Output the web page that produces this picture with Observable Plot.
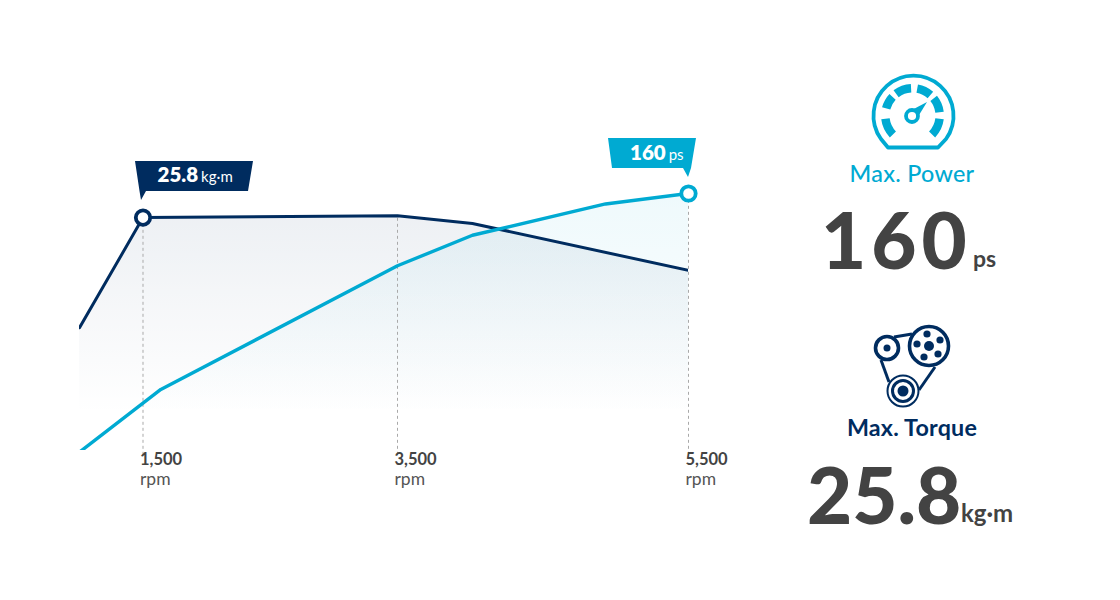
<!DOCTYPE html>
<html><head><meta charset="utf-8">
<script src="https://cdn.jsdelivr.net/npm/d3@7"></script>
<script src="https://cdn.jsdelivr.net/npm/@observablehq/plot@0.6"></script>
<style>
html,body{margin:0;background:#fff;width:1120px;height:600px;overflow:hidden}
#wrap{position:relative;width:1120px;height:600px;font-family:Lato,sans-serif}
#chart svg{position:absolute;left:0;top:0}
.t{position:absolute;white-space:nowrap;line-height:1}
</style></head><body>
<div id="wrap"><div id="chart"></div>
<svg id="gauge" style="position:absolute;left:860px;top:65px" width="106" height="90" viewBox="860 65 106 90"></svg>
<svg id="pulley" style="position:absolute;left:865px;top:318px" width="95" height="95" viewBox="865 318 95 95"></svg>
<div class="t" style="left:812px;width:200px;text-align:center;top:162px;font-size:23.3px;font-weight:500;color:#00aad2;letter-spacing:.3px">Max. Power</div>
<div class="t" style="left:821px;top:200px;font-size:78px;font-weight:900;color:#434343;letter-spacing:5px">160</div>
<div class="t" style="left:973px;top:247px;font-size:23px;font-weight:700;color:#434343">ps</div>
<div class="t" style="left:812px;width:200px;text-align:center;top:416px;font-size:23.3px;font-weight:700;color:#002c5f;letter-spacing:.2px">Max. Torque</div>
<div class="t" style="left:807px;top:455px;font-size:78px;font-weight:900;color:#434343">25.8</div>
<div class="t" style="left:961px;top:501px;font-size:24px;font-weight:700;color:#434343">kg·m</div>
</div>
<script>
const rpm       = [1000, 1500, 1640, 3500, 4015, 4930, 5500];
const torqueKgm = [13.6, 25.8, null, 26.0, 25.15, null, 19.95];
const powerPs   = [  -1, null,  38,  115, 134,  153.5,  160];
const tickRpm = [1500, 3500, 5500];
const tickLabels = ["1,500", "3,500", "5,500"];
const peaks = [
  {rpm:1500, series:"torque", value:25.8, big:"25.8", unit:"kg·m", color:"#002c5f", side:"left"},
  {rpm:5500, series:"power", value:160, big:"160", unit:"ps", color:"#00aad2", side:"right"}
];
const navy = "#002c5f", sky = "#00aad2";
const torqueScale = 5.62; // torque drawn on the chart's shared vertical scale
const torque = rpm.map((r,i)=>({rpm:r, v:torqueKgm[i]})).filter(d=>d.v!==null).map(d=>({rpm:d.rpm, y:d.v*torqueScale}));
const power = rpm.map((r,i)=>({rpm:r, v:powerPs[i]})).filter(d=>d.v!==null).map(d=>({rpm:d.rpm, y:d.v}));
const yOf = p => p.series==="torque" ? p.value*torqueScale : p.value;

const defs = () => {
  const s = d3.create("svg:defs");
  const g = (id,c,o,y1,y2)=>{
    const l = s.append("linearGradient").attr("id",id).attr("gradientUnits","userSpaceOnUse").attr("x1",0).attr("x2",0).attr("y1",y1).attr("y2",y2);
    l.append("stop").attr("offset",0).attr("stop-color",c).attr("stop-opacity",o);
    l.append("stop").attr("offset",1).attr("stop-color",c).attr("stop-opacity",0);
  };
  g("gT",navy,0.07,215,415);
  g("gP",sky,0.065,193,415);
  return s.node();
};

const flags = (index, scales) => {
  const root = d3.create("svg:g").attr("text-anchor","start");
  for (const p of peaks) {
    const x = scales.x(p.rpm), y = scales.y(yOf(p));
    const g = root.append("g").attr("transform",`translate(${x},${y})`);
    const d = p.side==="left"
      ? "M-7.5,-56 L110.5,-56 L105.5,-26 L3.5,-26 L-1.5,-17 L-3,-26 Z"
      : "M-80,-55 L8,-55 L3,-25 L0,-16 L-5,-25 L-76,-25 Z";
    g.append("path").attr("d",d).attr("fill",p.color);
    const tx = p.side==="left" ? 15 : -58;
    const t = g.append("text").attr("x",tx).attr("y",p.side==="left"?-35:-33).attr("fill","#fff").attr("font-family","Lato,sans-serif");
    t.append("tspan").attr("font-size",20.5).attr("font-weight",800).text(p.big);
    t.append("tspan").attr("font-size",15).attr("dx",3).attr("font-weight",400).text(p.unit);
  }
  return root.node();
};

const plot = Plot.plot({
  width:1120, height:600,
  marginLeft:79, marginRight:432, marginTop:60, marginBottom:150,
  x:{type:"linear", domain:[1000,1500,3500,5500], range:[79,142.5,397,688], axis:null},
  y:{domain:[0,160], range:[450,193], axis:null},
  style:{fontFamily:"Lato,sans-serif", background:"transparent", overflow:"visible"},
  marks:[
    defs,
    Plot.areaY(torque,{x:"rpm",y2:"y",y1:0,fill:"url(#gT)",clip:"frame"}),
    Plot.areaY(power,{x:"rpm",y2:"y",y1:0,fill:"url(#gP)",clip:"frame"}),
    Plot.ruleX(tickRpm,{x:d=>d,y1:-3,y2:d=>d===1500?25.8*torqueScale:d===3500?26*torqueScale:160,stroke:"#a9a9a9",strokeWidth:1,strokeDasharray:"3,3",clip:false}),
    Plot.line(torque,{x:"rpm",y:"y",stroke:navy,strokeWidth:3,clip:"frame"}),
    Plot.line(power,{x:"rpm",y:"y",stroke:sky,strokeWidth:3.4,clip:"frame"}),
    Plot.dot(peaks,{x:"rpm",y:yOf,r:7.2,fill:"#fff",stroke:"color",strokeWidth:3.8}),
    flags,
    Plot.text(tickRpm,{x:d=>d,y:0,text:(d,i)=>tickLabels[i],textAnchor:"start",dx:-3,dy:9.5,fontSize:16.5,fontWeight:700,fill:"#434343"}),
    Plot.text(tickRpm,{x:d=>d,y:0,text:()=>"rpm",textAnchor:"start",dx:-3,dy:28.5,fontSize:17.5,fill:"#555"})
  ]
});
document.getElementById("chart").append(plot);

// icons
const gauge = d3.select("#gauge");
const cx=913.5, cy=116.5;
gauge.append("path").attr("d",`M888,147.5 L938,147.5 L946,139 A40,40 0 1 0 881,139 Z`).attr("fill","none").attr("stroke",sky).attr("stroke-width",3.8).attr("stroke-linejoin","round");
const arc = d3.arc().innerRadius(23).outerRadius(31.5);
const segs = [[-134,-97],[-75,-47],[-37,-3],[10,41],[51,83],[97,134]];
segs.forEach(([a,b])=>gauge.append("path").attr("transform",`translate(${cx-1},${cy-1})`).attr("d",arc({startAngle:a*Math.PI/180,endAngle:b*Math.PI/180})).attr("fill",sky));
gauge.append("path").attr("d","M908,112 L927,102 L916,120 Z").attr("fill",sky);
gauge.append("circle").attr("cx",912).attr("cy",116).attr("r",6).attr("fill","#fff").attr("stroke",sky).attr("stroke-width",3.8);

const pul = d3.select("#pulley");
[[894,337,912,334],[881,360,889,382],[935,367,919,390]].forEach(([a,b,c,d])=>pul.append("line").attr("x1",a).attr("y1",b).attr("x2",c).attr("y2",d).attr("stroke",navy).attr("stroke-width",3));
const circ=(x,y,r,f,s,w)=>pul.append("circle").attr("cx",x).attr("cy",y).attr("r",r).attr("fill",f).attr("stroke",s||"none").attr("stroke-width",w||0);
circ(887,348,11.5,"#fff",navy,3.6); circ(887,348,3.5,navy);
circ(929,346,19.5,"#fff",navy,3.6); circ(929,346,5,navy);
[[927,334],[940,340],[938,354],[924,357],[917,344]].forEach(([x,y])=>circ(x,y,3.6,navy));
circ(903,391,15.5,"#fff",navy,2); circ(903,391,10.5,"#fff",navy,3); circ(903,391,5.5,navy);
</script>
</body></html>
